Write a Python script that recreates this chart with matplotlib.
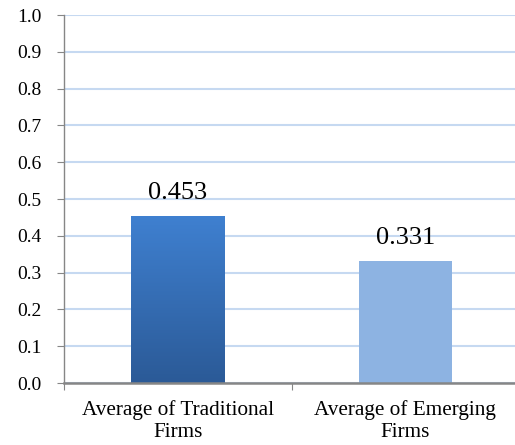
import numpy as np
import matplotlib.pyplot as plt
from matplotlib.colors import LinearSegmentedColormap

# Datos del grafico
categories = ['Average of Traditional\nFirms', 'Average of Emerging\nFirms']
values = [0.453, 0.331]
value_labels = ['0.453', '0.331']
y_ticks = [0.0, 0.1, 0.2, 0.3, 0.4, 0.5, 0.6, 0.7, 0.8, 0.9, 1.0]

serif = ['Liberation Serif', 'DejaVu Serif']
plt.rcParams['font.family'] = serif

fig = plt.figure(figsize=(5.15, 4.45), dpi=100)
ax = fig.add_axes([64 / 515, 62 / 445, 455 / 515, 368 / 445])

x = np.arange(len(categories))
bar_width = 0.41
bars = ax.bar(x, values, width=bar_width, color=['#3a74c0', '#8db3e2'], zorder=3)

# Degradado para la primera barra
grad_cmap = LinearSegmentedColormap.from_list('grad', ['#2b5a97', '#3f80d0'])
b0 = bars[0]
bx, by = b0.get_x(), b0.get_y()
bw, bh = b0.get_width(), b0.get_height()
grad = np.linspace(0, 1, 256).reshape(-1, 1)
img = ax.imshow(grad, cmap=grad_cmap, origin='lower', aspect='auto',
                extent=[bx, bx + bw, by, by + bh], zorder=4)
img.set_clip_path(b0)

# Etiquetas de valor
for xi, v, lab in zip(x, values, value_labels):
    ax.text(xi, v + 0.046, lab, ha='center', va='baseline', fontsize=19,
            color='black', family=serif)

ax.set_xlim(-0.5, 1.5)
ax.set_ylim(0, 1.0)
ax.set_yticks(y_ticks, [f'{t:.1f}' for t in y_ticks])
ax.set_xticks([-0.5, 0.5, 1.5], ['', '', ''])
ax.set_xticks(x, categories, minor=True)
for lab in ax.get_xticklabels(minor=True):
    lab.set_fontsize(15.3)
    lab.set_linespacing(1.25)
    lab.set_fontfamily(serif)
for lab in ax.get_yticklabels():
    lab.set_fontsize(14)
    lab.set_fontfamily(serif)
ax.tick_params(axis='x', which='minor', length=0, pad=12)
ax.tick_params(axis='x', which='major', length=5, color='#868686', direction='out')
ax.tick_params(axis='y', length=5, color='#868686', direction='out', pad=11)

ax.yaxis.grid(True, color='#c6d9f1', linewidth=1.5, zorder=0)
ax.set_axisbelow(True)

for side in ['top', 'right']:
    ax.spines[side].set_visible(False)
ax.spines['left'].set_color('#868686')
ax.spines['left'].set_linewidth(1.0)
ax.spines['bottom'].set_color('#868686')
ax.spines['bottom'].set_linewidth(1.8)
ax.spines['bottom'].set_zorder(5)

fig.savefig('out.png', dpi=100)
